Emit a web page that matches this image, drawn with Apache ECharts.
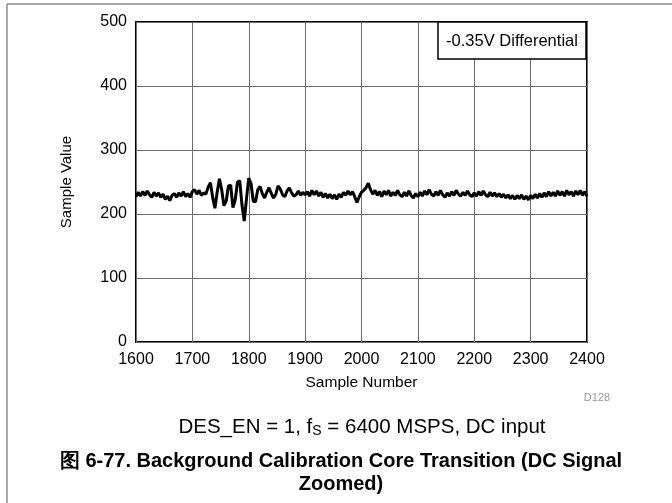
<!DOCTYPE html>
<html>
<head>
<meta charset="utf-8">
<script src="https://cdn.jsdelivr.net/npm/echarts@6/dist/echarts.min.js"></script>
<style>html,body{margin:0;padding:0;background:#fff}#c{width:672px;height:503px}</style>
</head>
<body>
<div id="c"></div>
<script>
// Sample numbers: start and step of the captured record
const sampleStart = 1600;
const sampleStep = 4;
// Sample values (every 4th sample)
const sampleValues = [
  227,234,228,235,229,236,230,226,234,228,
  233,226,231,223,228,221,229,232,226,233,
  228,235,227,232,226,235,238,231,237,229,
  233,231,242,249,226,209,234,255,238,213,
  220,244,245,210,222,250,252,214,189,224,
  256,248,220,219,238,243,
  232,225,234,241,232,225,231,244,239,230,
  227,236,241,233,228,230,236,229,234,230,
  235,228,237,230,236,228,234,226,232,225,
  231,224,230,223,231,226,234,229,236,230,
  235,227,218,227,234,237,241,248,238,231,
  237,229,235,227,236,230,237,228,234,229,
  237,230,227,234,228,236,229,225,232,227,
  234,228,236,230,238,231,228,235,229,237,
  230,226,233,228,235,229,237,231,228,234,
  229,236,230,227,233,
  228,235,229,236,230,227,234,228,233,227,
  232,226,231,225,230,224,229,223,229,224,
  230,223,228,222,229,
  224,231,225,232,226,233,227,235,228,234,
  228,236,229,235,228,237,230,235,228,236,
  230,237,229,235,228
];
const xTicks = [1600,1700,1800,1900,2000,2100,2200,2300,2400];
const yTicks = [0,100,200,300,400,500];
const legendText = '-0.35V Differential';
const xName = 'Sample Number';
const yName = 'Sample Value';
const noteText = 'D128';
const title1 = '图 6-77. Background Calibration Core Transition (DC Signal';
const title2 = 'Zoomed)';

const seriesData = sampleValues.map((v, i) => [sampleStart + i * sampleStep, v]);

const chart = echarts.init(document.getElementById('c'), null, {renderer: 'canvas'});
const font = 'Liberation Sans, Arial, sans-serif';
chart.setOption({
  animation: false,
  grid: {left: 136, right: 85, top: 22, bottom: 161, show: true, borderColor: '#000', borderWidth: 2, backgroundColor: 'transparent'},
  xAxis: {
    type: 'value', min: xTicks[0], max: xTicks[xTicks.length - 1], interval: 100,
    name: xName, nameLocation: 'middle', nameGap: 33,
    nameTextStyle: {fontFamily: font, fontSize: 15.5, color: '#000'},
    axisLine: {show: false}, axisTick: {show: false},
    axisLabel: {fontFamily: font, fontSize: 16, color: '#000', margin: 10, formatter: v => String(v)},
    splitLine: {show: true, lineStyle: {color: '#6e6e6e', width: 1}}
  },
  yAxis: {
    type: 'value', min: yTicks[0], max: yTicks[yTicks.length - 1], interval: 100,
    name: yName, nameLocation: 'middle', nameGap: 62,
    nameTextStyle: {fontFamily: font, fontSize: 15, color: '#000'},
    axisLine: {show: false}, axisTick: {show: false},
    axisLabel: {fontFamily: font, fontSize: 16, color: '#000', margin: 9, formatter: v => String(v)},
    splitLine: {show: true, lineStyle: {color: '#6e6e6e', width: 1}}
  },
  series: [{
    type: 'line', data: seriesData, showSymbol: false, symbol: 'none',
    lineStyle: {color: '#000', width: 3}, z: 5
  }],
  graphic: [
    {type: 'line', shape: {x1: 7, y1: 4, x2: 672, y2: 4}, style: {stroke: '#8a8a8a', lineWidth: 1.5}},
    {type: 'line', shape: {x1: 7, y1: 4, x2: 7, y2: 503}, style: {stroke: '#8a8a8a', lineWidth: 1.5}},
    {type: 'rect', shape: {x: 438, y: 22, width: 148, height: 37}, style: {fill: '#fff', stroke: '#000', lineWidth: 1.5}, z: 10},
    {type: 'text', x: 512, y: 41, style: {text: legendText, font: '16.5px ' + font, fill: '#000', align: 'center', verticalAlign: 'middle'}, z: 11},
    {type: 'text', x: 597, y: 398, style: {text: noteText, font: '11px ' + font, fill: '#999', align: 'center', verticalAlign: 'middle'}},
    {type: 'text', x: 362, y: 427, style: {
      rich: {n: {font: '20.5px ' + font, fill: '#000'}, s: {font: '14px ' + font, fill: '#000', padding: [9, 0, 0, 0]}},
      text: '{n|DES_EN = 1, f}{s|S}{n| = 6400 MSPS, DC input}', align: 'center', verticalAlign: 'middle'}},
    {type: 'text', x: 341, y: 461, style: {text: title1, font: 'bold 20px ' + font, fill: '#000', align: 'center', verticalAlign: 'middle'}},
    {type: 'text', x: 341, y: 484, style: {text: title2, font: 'bold 20px ' + font, fill: '#000', align: 'center', verticalAlign: 'middle'}}
  ]
});
</script>
</body>
</html>
